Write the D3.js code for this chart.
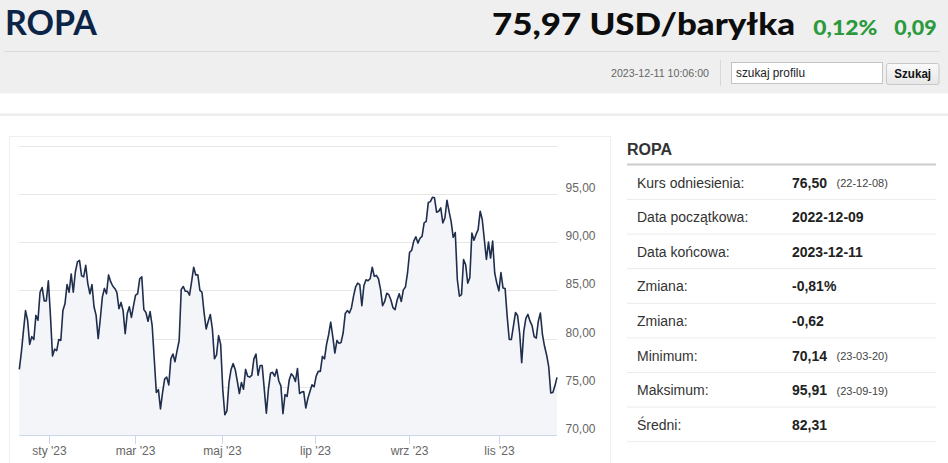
<!DOCTYPE html>
<html>
<head>
<meta charset="utf-8">
<script src="https://cdn.jsdelivr.net/npm/d3@7/dist/d3.min.js"></script>
<style>
  html, body { margin: 0; padding: 0; background: #fff; }
  svg { display: block; }
</style>
</head>
<body>
<div id="root"></div>
<script>
// ---------------- DATA ----------------
const instrumentName = "ROPA";
const priceText = "75,97 USD/baryłka";
const changePctText = "0,12%";
const changeAbsText = "0,09";
const timestampText = "2023-12-11 10:06:00";
const searchPlaceholder = "szukaj profilu";
const searchButton = "Szukaj";

// daily closing prices (one value per trading session), 2022-12-09 .. 2023-12-11
const sessionValues = [
  76.8, 78.6, 80.8, 82.9, 81.9, 79.4, 80.2, 79.9, 82.4, 81.9,
  84.8, 85.3, 83.9, 83.9, 86.0, 82.4, 78.2, 78.9, 78.75, 79.9,
  79.8, 82.9, 83.6, 85.6, 84.8, 86.7, 84.8, 86.9, 87.95, 88.1,
  86.5, 86.4, 87.6, 85.7, 84.65, 85.6, 83.3, 82.4, 80.0, 82.0,
  84.3, 85.2, 84.65, 86.6, 85.9, 85.45, 85.2, 84.8, 83.1, 83.75,
  82.9, 80.5, 82.6, 83.3, 82.2, 83.4, 84.5, 84.65, 86.2, 86.4,
  83.0, 82.7, 81.8, 82.8, 81.35, 77.9, 74.4, 74.7, 72.7, 74.4,
  75.8, 76.0, 75.2, 77.9, 78.4, 77.6, 78.75, 79.8, 85.1, 85.4,
  84.9, 84.9, 84.5, 85.9, 87.4, 86.6, 86.6, 85.0, 84.8, 82.7,
  81.0, 81.8, 82.5, 81.0, 77.9, 78.3, 80.3, 79.4, 74.75, 72.1,
  72.5, 75.45, 76.8, 77.4, 76.8, 75.6, 74.3, 75.45, 74.75, 76.8,
  76.1, 76.0, 76.2, 77.9, 78.4, 76.2, 77.2, 77.2, 74.75, 72.25,
  74.75, 76.4, 76.5, 76.1, 76.8, 75.6, 75.1, 72.2, 74.2, 74.0,
  75.7, 76.35, 76.1, 75.55, 76.9, 74.3, 74.45, 74.5, 72.8, 73.8,
  74.5, 75.2, 75.0, 76.1, 76.6, 76.6, 78.15, 77.9, 79.4, 80.4,
  81.7, 80.2, 78.5, 79.8, 79.5, 79.6, 80.6, 82.6, 82.9, 82.65,
  83.2, 84.4, 85.35, 85.75, 85.6, 83.4, 85.5, 86.1, 86.0, 86.2,
  87.4, 86.45, 86.55, 86.2, 85.1, 83.4, 83.85, 84.7, 84.55, 84.0,
  83.2, 83.0, 84.0, 84.65, 83.85, 85.05, 85.35, 86.8, 88.95, 89.15,
  90.1, 90.55, 89.9, 90.4, 90.6, 92.0, 92.15, 94.1, 94.2, 94.65,
  94.6, 93.1, 93.2, 93.55, 92.0, 92.5, 94.35, 93.2, 92.15, 90.5,
  91.0, 86.1, 84.4, 84.55, 88.2, 87.65, 85.75, 86.3, 90.95, 90.2,
  90.8, 91.3, 93.2, 92.35, 90.25, 88.2, 90.0, 88.35, 90.1, 86.8,
  85.75, 84.95, 86.85, 85.25, 85.2, 82.3, 79.9, 79.9, 81.3, 82.7,
  82.4, 80.6, 77.5, 80.75, 82.1, 82.5, 81.8, 81.35, 80.2, 80.05,
  81.8, 82.65, 80.4, 79.2, 78.3, 77.1, 74.35, 74.4, 75.1, 75.97
];

// x-axis month labels and the trading session where each month begins
const monthLabels = ["sty '23", "mar '23", "maj '23", "lip '23", "wrz '23", "lis '23"];
const monthSessions = [14.5, 55.8, 97.8, 142.6, 187.7, 231];

// y-axis
const yGridValues = [70, 75, 80, 85, 90, 95, 100];
const yLabelValues = [70, 75, 80, 85, 90, 95];

// statistics table
const statLabels = ["Kurs odniesienia:", "Data początkowa:", "Data końcowa:", "Zmiana:", "Zmiana:", "Minimum:", "Maksimum:", "Średni:"];
const statValues = ["76,50", "2022-12-09", "2023-12-11", "-0,81%", "-0,62", "70,14", "95,91", "82,31"];
const statNotes  = ["(22-12-08)", "", "", "", "", "(23-03-20)", "(23-09-19)", ""];

// ---------------- DRAW ----------------
const W = 948, H = 463;
const svg = d3.select("#root").append("svg").attr("width", W).attr("height", H);
const SANS = "'Liberation Sans', Arial, sans-serif";
const HEAD = "Lato, 'Noto Sans', sans-serif";

// header background
svg.append("rect").attr("x", 0).attr("y", 0).attr("width", W).attr("height", 93.3).attr("fill", "#efefef");
svg.append("line").attr("x1", 4).attr("x2", 940).attr("y1", 51.5).attr("y2", 51.5)
   .attr("stroke", "#dadada").attr("stroke-width", 1);

svg.append("text").attr("x", 5).attr("y", 35).text(instrumentName)
   .attr("font-family", HEAD).attr("font-size", 35).attr("font-weight", 700)
   .attr("fill", "#0b2447").attr("textLength", 92).attr("lengthAdjust", "spacingAndGlyphs");

svg.append("text").attr("x", 492).attr("y", 34.5).text(priceText)
   .attr("font-family", HEAD).attr("font-size", 30).attr("font-weight", 900)
   .attr("fill", "#0d0d0d").attr("textLength", 303).attr("lengthAdjust", "spacingAndGlyphs");

svg.append("text").attr("x", 813.3).attr("y", 34.5).text(changePctText)
   .attr("font-family", HEAD).attr("font-size", 21).attr("font-weight", 900)
   .attr("fill", "#2a9a3c").attr("textLength", 64).attr("lengthAdjust", "spacingAndGlyphs");
svg.append("text").attr("x", 894.3).attr("y", 34.5).text(changeAbsText)
   .attr("font-family", HEAD).attr("font-size", 21).attr("font-weight", 900)
   .attr("fill", "#2a9a3c").attr("textLength", 42.4).attr("lengthAdjust", "spacingAndGlyphs");

svg.append("text").attr("x", 611).attr("y", 76.8).text(timestampText)
   .attr("font-family", SANS).attr("font-size", 11.5).attr("fill", "#666")
   .attr("textLength", 98).attr("lengthAdjust", "spacingAndGlyphs");
svg.append("line").attr("x1", 720.5).attr("x2", 720.5).attr("y1", 60).attr("y2", 86)
   .attr("stroke", "#d8d8d8");

svg.append("rect").attr("x", 731.5).attr("y", 62.5).attr("width", 151).attr("height", 21)
   .attr("fill", "#fff").attr("stroke", "#c4c4c4");
svg.append("text").attr("x", 736).attr("y", 77).text(searchPlaceholder)
   .attr("font-family", SANS).attr("font-size", 12).attr("fill", "#222")
   .attr("textLength", 69).attr("lengthAdjust", "spacingAndGlyphs");

const defs = svg.append("defs");
const grad = defs.append("linearGradient").attr("id", "btn").attr("x1", 0).attr("x2", 0).attr("y1", 0).attr("y2", 1);
grad.append("stop").attr("offset", "0%").attr("stop-color", "#fafafa");
grad.append("stop").attr("offset", "100%").attr("stop-color", "#e6e6e6");
svg.append("rect").attr("x", 886.5).attr("y", 63.5).attr("width", 52.5).attr("height", 21).attr("rx", 2)
   .attr("fill", "url(#btn)").attr("stroke", "#c8c8c8");
svg.append("text").attr("x", 912.7).attr("y", 78.2).attr("text-anchor", "middle").text(searchButton)
   .attr("font-family", SANS).attr("font-size", 12).attr("font-weight", 700).attr("fill", "#111")
   .attr("textLength", 36.7).attr("lengthAdjust", "spacingAndGlyphs");

// separator band
svg.append("rect").attr("x", 0).attr("y", 113.3).attr("width", W).attr("height", 2.8).attr("fill", "#eeeeee");

// chart box
svg.append("rect").attr("x", 9.5).attr("y", 136.5).attr("width", 601).attr("height", 340)
   .attr("fill", "#fff").attr("stroke", "#efefef");

// scales
const plot = { left: 19.3, right: 557, top: 145.7, bottom: 435 };
const x = d3.scaleLinear().domain([0, sessionValues.length - 1]).range([plot.left, plot.right]);
const y = d3.scaleLinear().domain([70, 100]).range([plot.bottom, plot.top]);

const g = svg.append("g");
// gridlines
g.selectAll("line.grid").data(yGridValues.filter(v => v !== 70)).join("line")
  .attr("class", "grid")
  .attr("x1", plot.left).attr("x2", plot.right)
  .attr("y1", d => Math.round(y(d)) + 0.5).attr("y2", d => Math.round(y(d)) + 0.5)
  .attr("stroke", "#e6e6e6").attr("stroke-width", 1);

// area + line
const pts = sessionValues.map((v, i) => [i, v]);
const area = d3.area().x(d => x(d[0])).y0(y(70)).y1(d => y(d[1]));
const line = d3.line().x(d => x(d[0])).y(d => y(d[1]));
g.append("path").datum(pts).attr("d", area).attr("fill", "#f4f5f8");
g.append("path").datum(pts).attr("d", line).attr("fill", "none")
  .attr("stroke", "#1f2e4d").attr("stroke-width", 1.6).attr("stroke-linejoin", "round");

// x axis
g.append("line").attr("x1", plot.left).attr("x2", plot.right)
  .attr("y1", plot.bottom + 0.5).attr("y2", plot.bottom + 0.5).attr("stroke", "#ccd6eb");
const ticks = g.selectAll("g.xt").data(monthSessions).join("g").attr("class", "xt")
  .attr("transform", d => `translate(${Math.round(x(d)) + 0.5},0)`);
ticks.append("line").attr("y1", plot.bottom).attr("y2", plot.bottom + 9).attr("stroke", "#ccd6eb");
ticks.append("text").attr("y", plot.bottom + 19.5).attr("text-anchor", "middle")
  .text((d, i) => monthLabels[i])
  .attr("font-family", SANS).attr("font-size", 12).attr("fill", "#666");

// y labels
g.selectAll("text.yl").data(yLabelValues).join("text").attr("class", "yl")
  .attr("x", 565.5).attr("y", d => y(d) - 2)
  .text(d => d3.format(".2f")(d).replace(".", ","))
  .attr("font-family", SANS).attr("font-size", 12).attr("fill", "#666");

// ---------------- TABLE ----------------
const T = { left: 627, right: 936, titleY: 154.5, lineY: 164.5, rowTop: 165.4, rowH: 34.6 };
svg.append("text").attr("x", T.left).attr("y", T.titleY).text(instrumentName)
   .attr("font-family", SANS).attr("font-size", 16).attr("font-weight", 700).attr("fill", "#333");
svg.append("line").attr("x1", T.left).attr("x2", T.right).attr("y1", T.lineY).attr("y2", T.lineY)
   .attr("stroke", "#cccccc").attr("stroke-width", 2);

const rows = svg.selectAll("g.row").data(statLabels).join("g").attr("class", "row")
  .attr("transform", (d, i) => `translate(0,${T.rowTop + i * T.rowH})`);
rows.append("line").attr("x1", T.left).attr("x2", T.right)
  .attr("y1", T.rowH - 0.5).attr("y2", T.rowH - 0.5).attr("stroke", "#ececec");
rows.append("text").attr("x", 637).attr("y", T.rowH / 2 + 5).text(d => d)
  .attr("font-family", SANS).attr("font-size", 14).attr("fill", "#333");
rows.append("text").attr("x", 792).attr("y", T.rowH / 2 + 5).text((d, i) => statValues[i])
  .attr("font-family", SANS).attr("font-size", 14).attr("font-weight", 700).attr("fill", "#222");
rows.append("text").attr("x", 836.5).attr("y", T.rowH / 2 + 4.5).text((d, i) => statNotes[i])
  .attr("font-family", SANS).attr("font-size", 11).attr("fill", "#444");
</script>
</body>
</html>
